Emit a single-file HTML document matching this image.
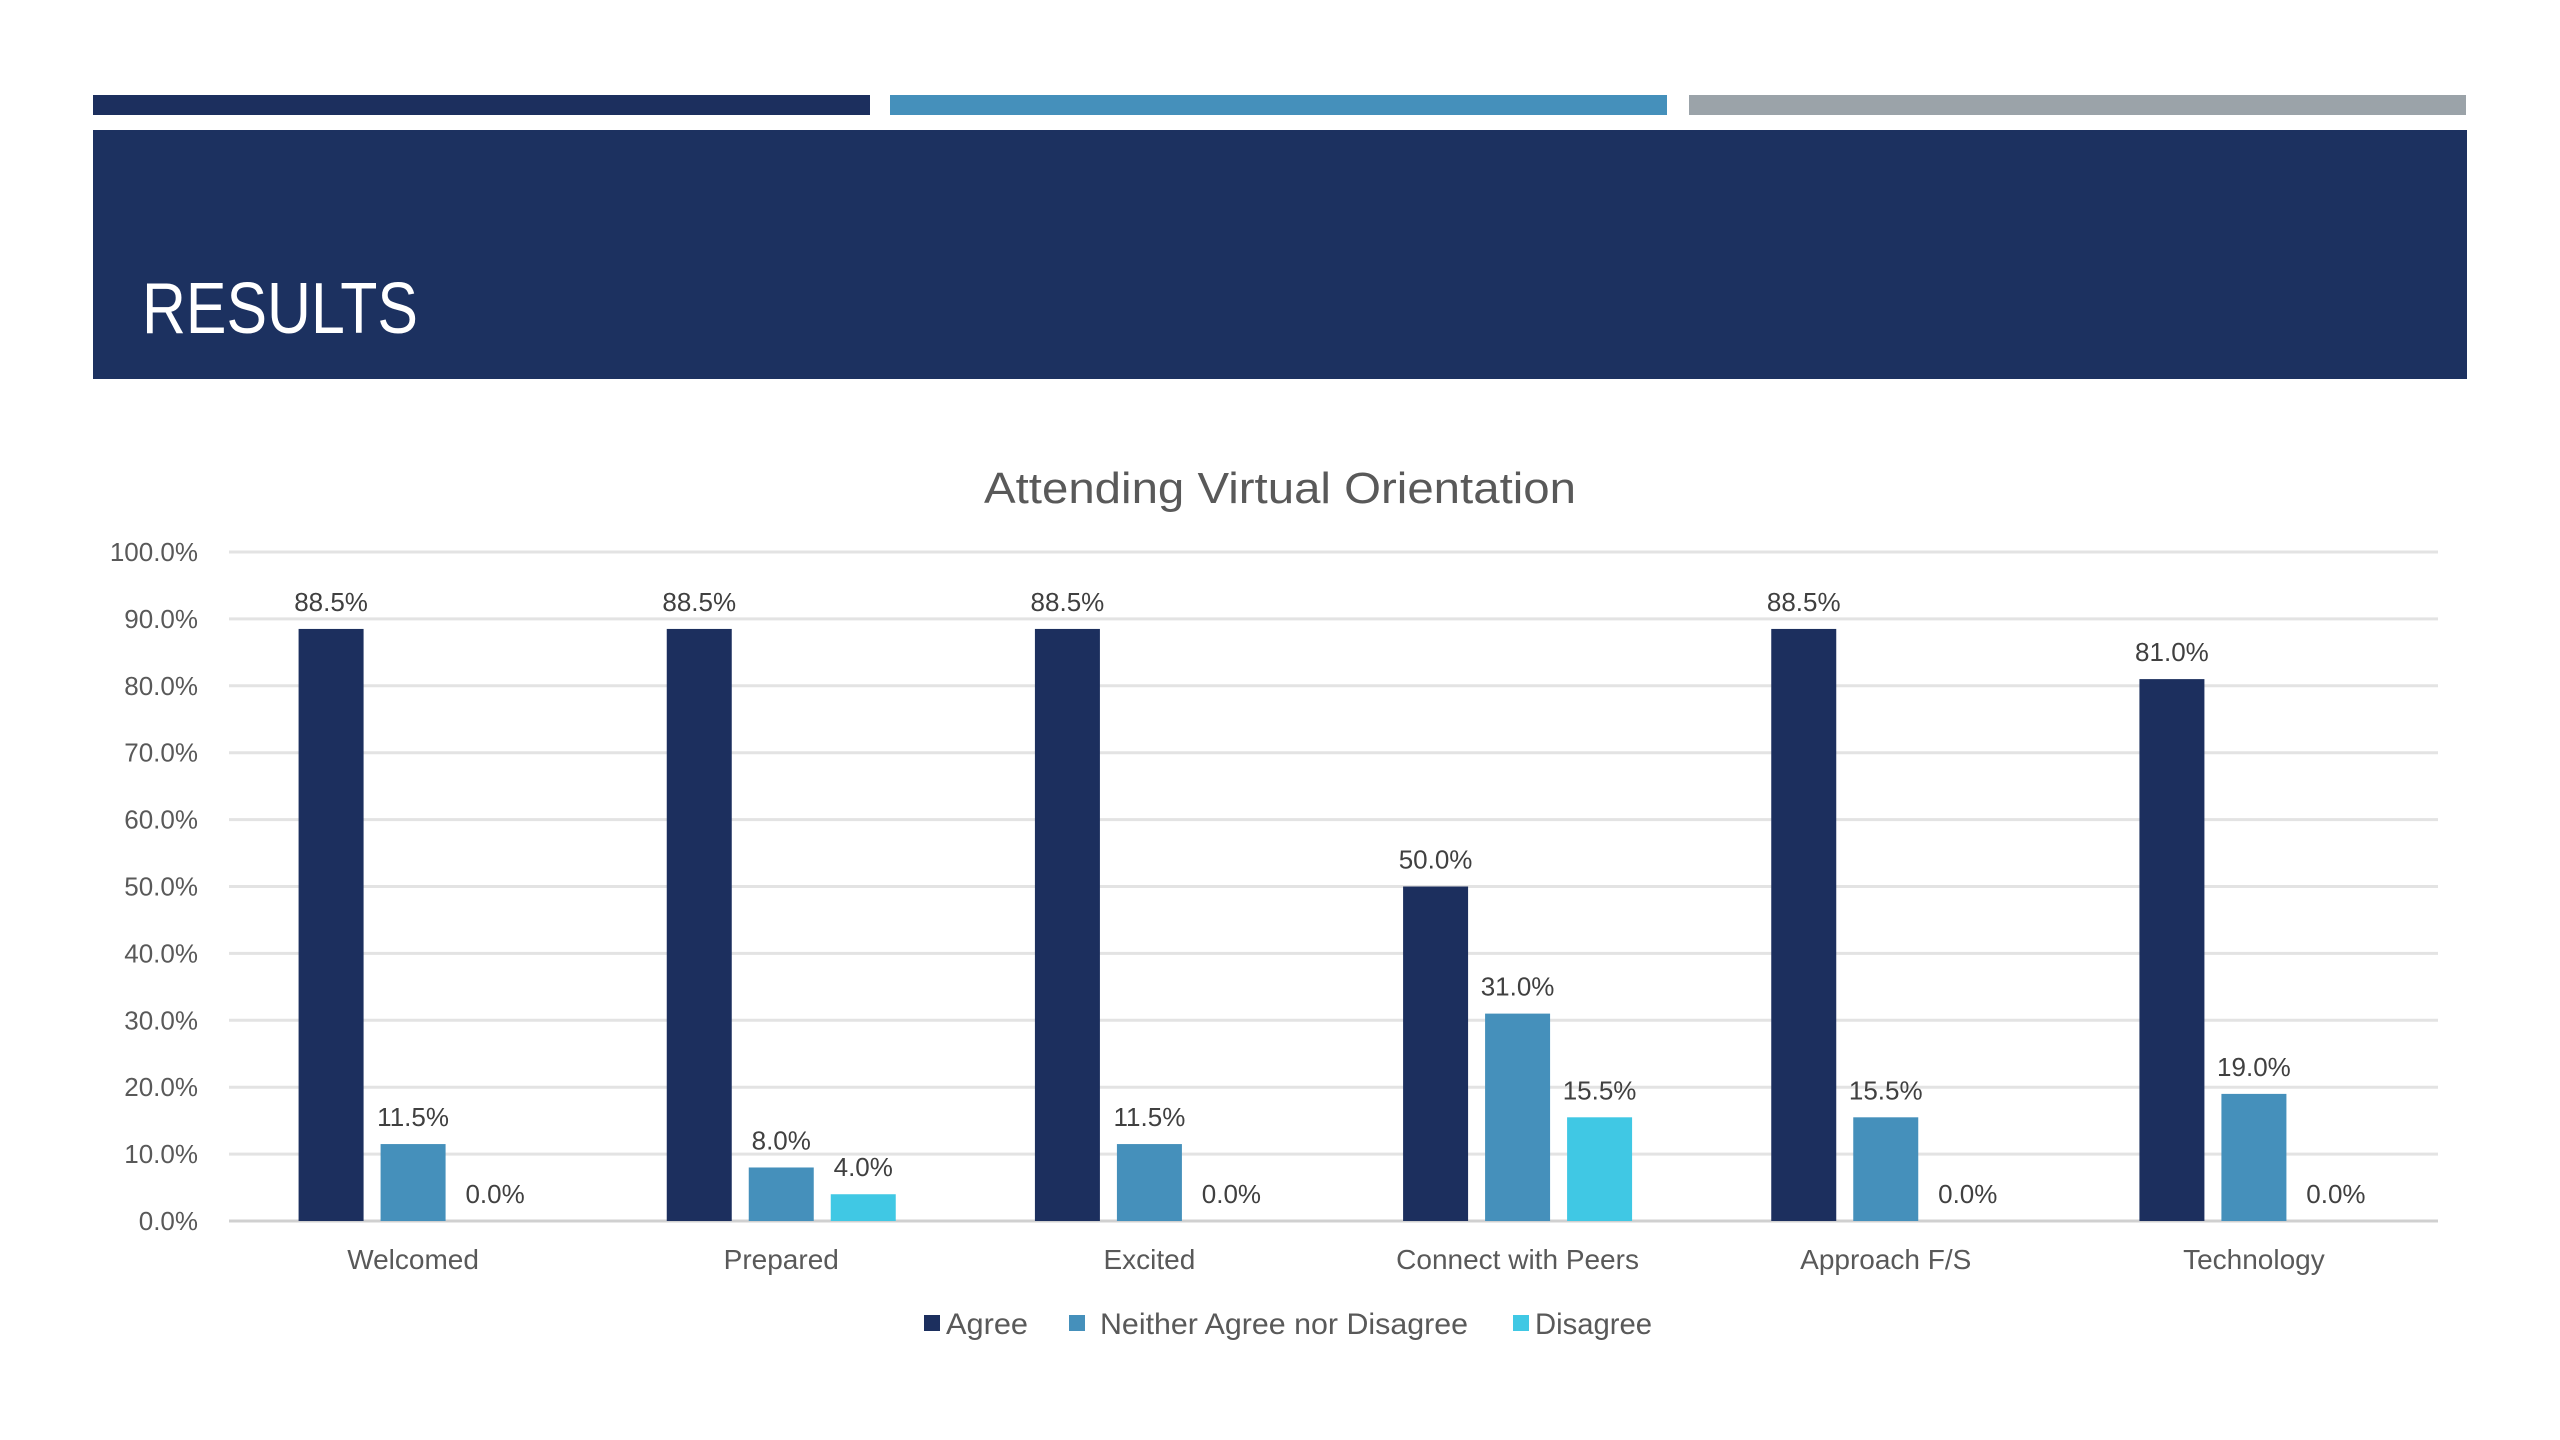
<!DOCTYPE html>
<html><head><meta charset="utf-8"><style>
html,body{margin:0;padding:0;background:#fff;width:2560px;height:1440px;overflow:hidden;font-family:"Liberation Sans",sans-serif;}
svg{display:block}
</style></head><body>
<svg id="chart" width="2560" height="1440" viewBox="0 0 2560 1440">
<rect x="93" y="95" width="777" height="20" fill="#1c2f5e"/>
<rect x="890" y="95" width="777" height="20" fill="#4590bb"/>
<rect x="1689" y="95" width="777" height="20" fill="#9ba3a9"/>
<rect x="93" y="130" width="2374" height="249" fill="#1c3160"/>
<text x="142" y="333" font-size="72" fill="#fff" textLength="276" lengthAdjust="spacingAndGlyphs">RESULTS</text>
<text x="1280" y="503" font-size="44" fill="#595959" text-anchor="middle" textLength="592" lengthAdjust="spacingAndGlyphs">Attending Virtual Orientation</text>
<g id="grid"></g><g id="bars"></g><g id="labels"></g>
<g>
<rect x="924" y="1315" width="16" height="16" fill="#1c2f5e"/>
<text x="946" y="1334" font-size="30" fill="#595959" textLength="82" lengthAdjust="spacingAndGlyphs">Agree</text>
<rect x="1069" y="1315" width="16" height="16" fill="#4590bb"/>
<text x="1100" y="1334" font-size="30" fill="#595959" textLength="368" lengthAdjust="spacingAndGlyphs">Neither Agree nor Disagree</text>
<rect x="1513" y="1315" width="16" height="16" fill="#40c8e4"/>
<text x="1535" y="1334" font-size="30" fill="#595959" textLength="117" lengthAdjust="spacingAndGlyphs">Disagree</text>
</g>
</svg>
<script>
const categories = ["Welcomed","Prepared","Excited","Connect with Peers","Approach F/S","Technology"];
const agree = [88.5,88.5,88.5,50.0,88.5,81.0];
const neither = [11.5,8.0,11.5,31.0,15.5,19.0];
const disagree = [0.0,4.0,0.0,15.5,0.0,0.0];
const yTicks = [0,10,20,30,40,50,60,70,80,90,100];

const NS="http://www.w3.org/2000/svg";
const x0=229,x1=2438,yBase=1221,yTop=552;
const y=v=>yBase-(v/100)*(yBase-yTop);
const catW=(x1-x0)/categories.length;
const cx=i=>x0+catW*(i+0.5);
function mk(tag,attrs,parent){const e=document.createElementNS(NS,tag);for(const k in attrs)e.setAttribute(k,attrs[k]);parent.appendChild(e);return e;}
const grid=document.getElementById('grid'),bars=document.getElementById('bars'),labels=document.getElementById('labels');
yTicks.forEach(t=>{
  const l=mk('line',{x1:x0,x2:x1,y1:y(t),y2:y(t),stroke:t===0?'#d0d0d0':'#e3e3e3','stroke-width':3},grid);
  
  
  const tx=mk('text',{x:198,y:y(t)+9,'font-size':26,fill:'#595959','text-anchor':'end'},grid);
  tx.textContent=t.toFixed(1)+'%';
  
  
});
const series=[[agree,'#1c2f5e','agree'],[neither,'#4590bb','neither'],[disagree,'#40c8e4','disagree']];
categories.forEach((c,i)=>{
  series.forEach(([arr,col,nm],s)=>{
    const v=arr[i];const bx=cx(i)+(s-1)*82-32.5;
    const r=mk('rect',{x:bx,y:y(v),width:65,height:yBase-y(v),fill:col},bars);
    
    
    const t=mk('text',{x:bx+32.5,y:y(v)-18,'font-size':26,fill:'#404040','text-anchor':'middle'},labels);
    t.textContent=v.toFixed(1)+'%';
    
    
  });
  const ct=mk('text',{x:cx(i),y:1278-9,'font-size':28,fill:'#595959','text-anchor':'middle'},labels);
  ct.textContent=c;
  
  
});
</script>
</body></html>
